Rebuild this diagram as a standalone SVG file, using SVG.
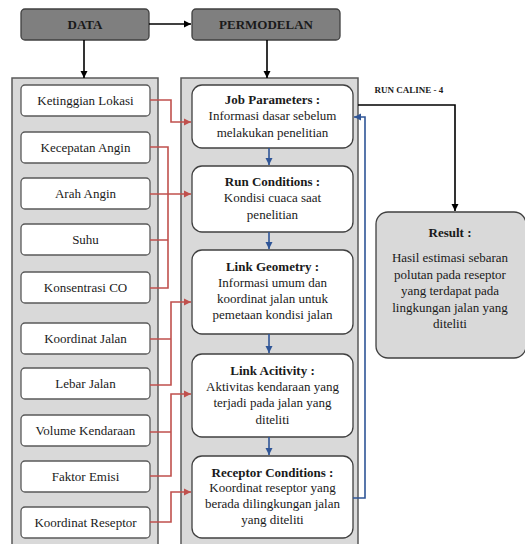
<svg xmlns="http://www.w3.org/2000/svg" width="525" height="544" viewBox="0 0 525 544">
<style>
text{font-family:"Liberation Serif","Times New Roman",serif;font-size:13px;fill:#1a1a1a;text-anchor:middle}
.b{font-weight:bold}
.hdr{fill:#7f7f7f;stroke:#404040;stroke-width:1.3}
.cont{fill:#d9d9d9;stroke:#595959;stroke-width:1.5}
.item{fill:#fff;stroke:#595959;stroke-width:1.3}
.mid{fill:#fff;stroke:#404040;stroke-width:1.3}
.res{fill:#d9d9d9;stroke:#404040;stroke-width:1.3}
.k{fill:none;stroke:#000;stroke-width:1.6}
.r{fill:none;stroke:#c0504d;stroke-width:1.6}
.bl{fill:none;stroke:#2f5597;stroke-width:1.6}
</style>
<defs>
<marker id="ak" markerWidth="8" markerHeight="8" refX="7" refY="4" orient="auto" markerUnits="userSpaceOnUse"><path d="M0,0.5 L7,4 L0,7.5z" fill="#000"/></marker>
<marker id="ar" markerWidth="8" markerHeight="8" refX="7" refY="4" orient="auto" markerUnits="userSpaceOnUse"><path d="M0,0.5 L7,4 L0,7.5z" fill="#c0504d"/></marker>
<marker id="ab" markerWidth="8" markerHeight="8" refX="7" refY="4" orient="auto" markerUnits="userSpaceOnUse"><path d="M0,0.5 L7,4 L0,7.5z" fill="#2f5597"/></marker>
</defs>
<rect class="cont" x="12" y="78" width="146" height="480"/>
<rect class="cont" x="181" y="78" width="177" height="480"/>
<g id="data"><rect class="hdr" x="21" y="9" width="128" height="31" rx="4"/><text class="b" x="85" y="29">DATA</text></g>
<g id="permodelan"><rect class="hdr" x="192" y="9" width="148" height="31" rx="4"/><text class="b" x="266" y="29">PERMODELAN</text></g>
<g id="i1"><rect class="item" x="21" y="85" width="129" height="31" rx="4"/><text x="85.5" y="105">Ketinggian Lokasi</text></g>
<g id="i2"><rect class="item" x="21" y="132" width="129" height="31" rx="4"/><text x="85.5" y="152">Kecepatan Angin</text></g>
<g id="i3"><rect class="item" x="21" y="178" width="129" height="31" rx="4"/><text x="85.5" y="198">Arah Angin</text></g>
<g id="i4"><rect class="item" x="21" y="224" width="129" height="31" rx="4"/><text x="85.5" y="244">Suhu</text></g>
<g id="i5"><rect class="item" x="21" y="272" width="129" height="31" rx="4"/><text x="85.5" y="292">Konsentrasi CO</text></g>
<g id="i6"><rect class="item" x="21" y="323" width="129" height="31" rx="4"/><text x="85.5" y="343">Koordinat Jalan</text></g>
<g id="i7"><rect class="item" x="21" y="368" width="129" height="31" rx="4"/><text x="85.5" y="388">Lebar Jalan</text></g>
<g id="i8"><rect class="item" x="21" y="415" width="129" height="31" rx="4"/><text x="85.5" y="435">Volume Kendaraan</text></g>
<g id="i9"><rect class="item" x="21" y="461" width="129" height="31" rx="4"/><text x="85.5" y="481">Faktor Emisi</text></g>
<g id="i10"><rect class="item" x="21" y="507" width="129" height="31" rx="4"/><text x="85.5" y="527">Koordinat Reseptor</text></g>
<g id="m1"><rect class="mid" x="192" y="85" width="161" height="63" rx="10"/><text class="b" x="272.5" y="104">Job Parameters :</text><text x="272.5" y="120">Informasi dasar sebelum</text><text x="272.5" y="137">melakukan penelitian</text></g>
<g id="m2"><rect class="mid" x="192" y="166" width="161" height="66" rx="10"/><text class="b" x="272.5" y="186">Run Conditions :</text><text x="272.5" y="202">Kondisi cuaca saat</text><text x="272.5" y="219">penelitian</text></g>
<g id="m3"><rect class="mid" x="192" y="250" width="161" height="84" rx="10"/><text class="b" x="272.5" y="271">Link Geometry :</text><text x="272.5" y="287">Informasi umum dan</text><text x="272.5" y="303">koordinat jalan untuk</text><text x="272.5" y="319">pemetaan kondisi jalan</text></g>
<g id="m4"><rect class="mid" x="192" y="354" width="161" height="83" rx="10"/><text class="b" x="272.5" y="375">Link Acitivity :</text><text x="272.5" y="391">Aktivitas kendaraan yang</text><text x="272.5" y="407">terjadi pada jalan yang</text><text x="272.5" y="424">diteliti</text></g>
<g id="m5"><rect class="mid" x="192" y="456" width="161" height="82" rx="10"/><text class="b" x="272.5" y="477">Receptor Conditions :</text><text x="272.5" y="492">Koordinat reseptor yang</text><text x="272.5" y="508">berada dilingkungan jalan</text><text x="272.5" y="524">yang diteliti</text></g>
<g id="result"><rect class="res" x="376" y="212" width="150" height="146" rx="12"/><text class="b" x="450" y="237">Result :</text><text x="450" y="262">Hasil estimasi sebaran</text><text x="450" y="279">polutan pada reseptor</text><text x="450" y="295">yang terdapat pada</text><text x="450" y="312">lingkungan jalan yang</text><text x="450" y="328">diteliti</text></g>
<text class="b" x="409" y="93" style="font-size:9px">RUN CALINE - 4</text>
<g id="connectors">
<path class="k" d="M149,24 H191" marker-end="url(#ak)"/>
<path class="k" d="M84,40 V78" marker-end="url(#ak)"/>
<path class="k" d="M267,40 V78" marker-end="url(#ak)"/>
<path class="k" d="M358,105 H455 V211" marker-end="url(#ak)"/>
<path class="r" d="M150,100 H171 V122 H191" marker-end="url(#ar)"/>
<path class="r" d="M150,194 H191" marker-end="url(#ar)"/>
<path class="r" d="M150,147 H168 V288 H150 M150,240 H168"/>
<path class="r" d="M150,339 H171 M150,385 H171 V302 H191" marker-end="url(#ar)"/>
<path class="r" d="M150,432 H171 M150,476 H171 V394 H191" marker-end="url(#ar)"/>
<path class="r" d="M150,522 H171 V492 H191" marker-end="url(#ar)"/>
<path class="bl" d="M269,148 V165" marker-end="url(#ab)"/>
<path class="bl" d="M269,232 V249" marker-end="url(#ab)"/>
<path class="bl" d="M269,334 V353" marker-end="url(#ab)"/>
<path class="bl" d="M269,437 V455" marker-end="url(#ab)"/>
<path class="bl" d="M353,498 H365 V117 H354" marker-end="url(#ab)"/>
</g>
</svg>
